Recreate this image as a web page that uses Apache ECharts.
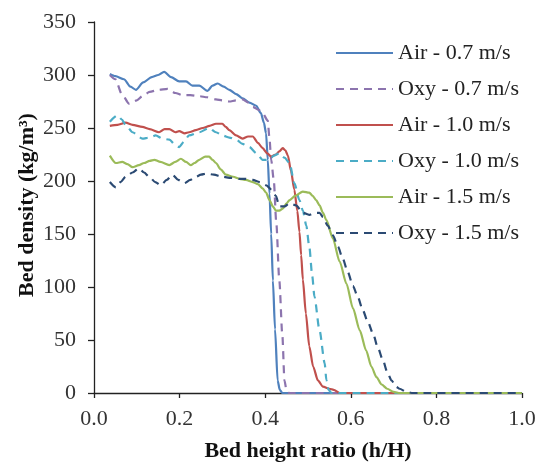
<!DOCTYPE html>
<html>
<head>
<meta charset="utf-8">
<script src="https://cdn.jsdelivr.net/npm/echarts@6/dist/echarts.min.js"></script>
<style>
  html, body { margin: 0; padding: 0; background: #fff; }
  #chart { width: 543px; height: 462px; }
</style>
</head>
<body>
<div id="chart"></div>
<script>
// Bed density profiles along the riser: [h/H, density kg/m3]
const air07 = [[0.037,301],[0.05,299],[0.07,296],[0.085,289],[0.098,286],[0.115,293],[0.135,298],[0.15,300],[0.164,303],[0.18,298],[0.199,294],[0.215,294],[0.23,290],[0.246,290],[0.265,285],[0.277,290],[0.289,292],[0.303,289],[0.316,286],[0.332,282],[0.347,278],[0.363,274],[0.379,271],[0.39,264],[0.397,255],[0.402,245],[0.406,220],[0.41,188],[0.414,150],[0.418,106],[0.423,60],[0.429,12],[0.434,3],[0.44,0],[1.0,0]];
const oxy07 = [[0.037,300],[0.05,296],[0.065,282],[0.082,273],[0.1,276],[0.113,280],[0.13,284],[0.15,286],[0.172,287],[0.19,283],[0.207,281],[0.225,281],[0.246,280],[0.265,279],[0.285,277],[0.3,276],[0.316,275],[0.332,276],[0.347,277],[0.36,274],[0.371,270],[0.385,267],[0.394,264],[0.406,257],[0.41,240],[0.414,220],[0.42,201],[0.426,160],[0.433,106],[0.44,55],[0.445,12],[0.45,2],[0.456,0],[1.0,0]];
const air10 = [[0.037,252],[0.055,253],[0.074,255],[0.09,253],[0.113,251],[0.13,249],[0.152,246],[0.165,249],[0.176,249],[0.19,246],[0.199,247],[0.212,245],[0.222,246],[0.238,248],[0.254,250],[0.27,252],[0.285,254],[0.3,254],[0.308,251],[0.316,248],[0.332,243],[0.347,240],[0.36,242],[0.371,242],[0.383,236],[0.394,231],[0.405,226],[0.414,223],[0.425,225],[0.433,228],[0.441,231],[0.447,229],[0.453,224],[0.46,210],[0.468,192],[0.475,172],[0.48,152],[0.484,130],[0.488,107],[0.495,75],[0.503,44],[0.512,25],[0.523,12],[0.535,6],[0.55,4],[0.56,3],[0.574,0],[1.0,0]];
const oxy10 = [[0.037,256],[0.055,262],[0.065,258],[0.074,253],[0.09,246],[0.113,240],[0.13,241],[0.144,243],[0.16,240],[0.176,239],[0.19,234],[0.199,232],[0.21,237],[0.222,243],[0.246,246],[0.269,250],[0.285,246],[0.3,243],[0.316,241],[0.332,239],[0.347,235],[0.363,232],[0.38,226],[0.394,220],[0.41,220],[0.42,224],[0.433,226],[0.445,222],[0.457,217],[0.468,198],[0.48,182],[0.488,172],[0.496,158],[0.503,138],[0.51,110],[0.515,91],[0.527,59],[0.539,28],[0.543,12],[0.548,3],[0.555,0],[1.0,0]];
const air15 = [[0.037,224],[0.051,217],[0.066,218],[0.078,216],[0.09,213],[0.105,215],[0.117,217],[0.13,219],[0.141,220],[0.155,218],[0.176,215],[0.19,218],[0.203,221],[0.215,218],[0.226,215],[0.235,217],[0.246,220],[0.26,223],[0.269,223],[0.277,220],[0.285,217],[0.296,211],[0.308,206],[0.325,204],[0.34,202],[0.355,201],[0.371,199],[0.383,197],[0.394,193],[0.402,189],[0.41,182],[0.418,176],[0.425,172],[0.433,172],[0.441,174],[0.45,179],[0.457,182],[0.47,186],[0.488,190],[0.503,189],[0.511,186],[0.519,182],[0.527,177],[0.535,170],[0.543,163],[0.558,146],[0.574,124],[0.59,103],[0.605,80],[0.621,59],[0.636,40],[0.648,25],[0.66,15],[0.672,8],[0.685,4],[0.7,1],[0.715,0],[1.0,0]];
const oxy15 = [[0.037,199],[0.051,194],[0.062,199],[0.074,204],[0.09,208],[0.105,212],[0.117,208],[0.129,204],[0.143,199],[0.156,196],[0.17,201],[0.183,206],[0.197,201],[0.211,198],[0.225,201],[0.238,204],[0.25,206],[0.262,207],[0.28,206],[0.3,204],[0.32,203],[0.34,202],[0.355,202],[0.371,201],[0.387,199],[0.402,196],[0.414,192],[0.425,186],[0.433,176],[0.445,176],[0.457,179],[0.472,177],[0.488,170],[0.503,168],[0.515,170],[0.527,170],[0.535,166],[0.546,158],[0.558,149],[0.57,138],[0.581,127],[0.593,114],[0.605,101],[0.617,90],[0.628,78],[0.64,67],[0.652,56],[0.663,43],[0.675,31],[0.685,20],[0.695,12],[0.705,6],[0.714,4],[0.73,1],[0.745,0],[1.0,0]];

const seriesNames = ['Air - 0.7 m/s', 'Oxy - 0.7 m/s', 'Air - 1.0 m/s', 'Oxy - 1.0 m/s', 'Air - 1.5 m/s', 'Oxy - 1.5 m/s'];
const seriesData = [air07, oxy07, air10, oxy10, air15, oxy15];
const seriesColors = ['#4F81BD', '#8C74AE', '#C0504D', '#4BACC6', '#9BBB59', '#2B4A73'];
const seriesDashed = [false, true, false, true, false, true];

const xTicks = { min: 0, max: 1, interval: 0.2 };
const yTicks = { min: 0, max: 350, interval: 50 };

const serif = '"Liberation Serif", "DejaVu Serif", serif';

const chart = echarts.init(document.getElementById('chart'), null, { renderer: 'canvas' });

chart.setOption({
  backgroundColor: '#ffffff',
  animation: false,
  grid: { left: 94, right: 21, top: 22, bottom: 69, containLabel: false, outerBoundsMode: 'none' },
  legend: {
    orient: 'vertical',
    left: 335,
    top: 42,
    padding: 0,
    icon: 'inherit',
    itemWidth: 57,
    itemHeight: 14,
    itemGap: 14,
    itemStyle: { opacity: 0 },
    data: seriesNames,
    textStyle: { fontFamily: serif, fontSize: 22, color: '#222', lineHeight: 22 }
  },
  xAxis: {
    type: 'value',
    min: xTicks.min, max: xTicks.max, interval: xTicks.interval,
    name: 'Bed height ratio (h/H)',
    nameLocation: 'middle',
    nameGap: 47,
    nameTextStyle: { fontFamily: serif, fontSize: 22, fontWeight: 'bold', color: '#111' },
    axisLine: { show: true, onZero: false, lineStyle: { color: '#222', width: 1.3 } },
    axisTick: { show: true, inside: false, length: 5, lineStyle: { color: '#222', width: 1.3 } },
    axisLabel: {
      margin: 15,
      fontFamily: serif, fontSize: 22, color: '#333',
      formatter: v => v.toFixed(1)
    },
    splitLine: { show: false }
  },
  yAxis: {
    type: 'value',
    min: yTicks.min, max: yTicks.max, interval: yTicks.interval,
    axisLine: { show: true, lineStyle: { color: '#222', width: 1.3 } },
    axisTick: { show: true, inside: false, length: 6, lineStyle: { color: '#222', width: 1.3 } },
    axisLabel: { margin: 18, fontFamily: serif, fontSize: 22, color: '#333' },
    splitLine: { show: false }
  },
  graphic: [{
    type: 'text',
    x: 27,
    y: 205,
    rotation: Math.PI / 2,
    style: {
      text: 'Bed density (kg/m³)',
      fontFamily: serif,
      fontSize: 22,
      fontWeight: 'bold',
      fill: '#111',
      align: 'center',
      verticalAlign: 'middle'
    }
  }],
  series: seriesNames.map((name, i) => ({
    name: name,
    type: 'line',
    data: seriesData[i],
    showSymbol: false,
    symbol: 'none',
    smooth: 0.25,
    smoothMonotone: 'x',
    color: seriesColors[i],
    lineStyle: {
      color: seriesColors[i],
      width: 2.2,
      type: seriesDashed[i] ? [8, 6] : 'solid'
    },
    emphasis: { disabled: true }
  }))
});
</script>
</body>
</html>
